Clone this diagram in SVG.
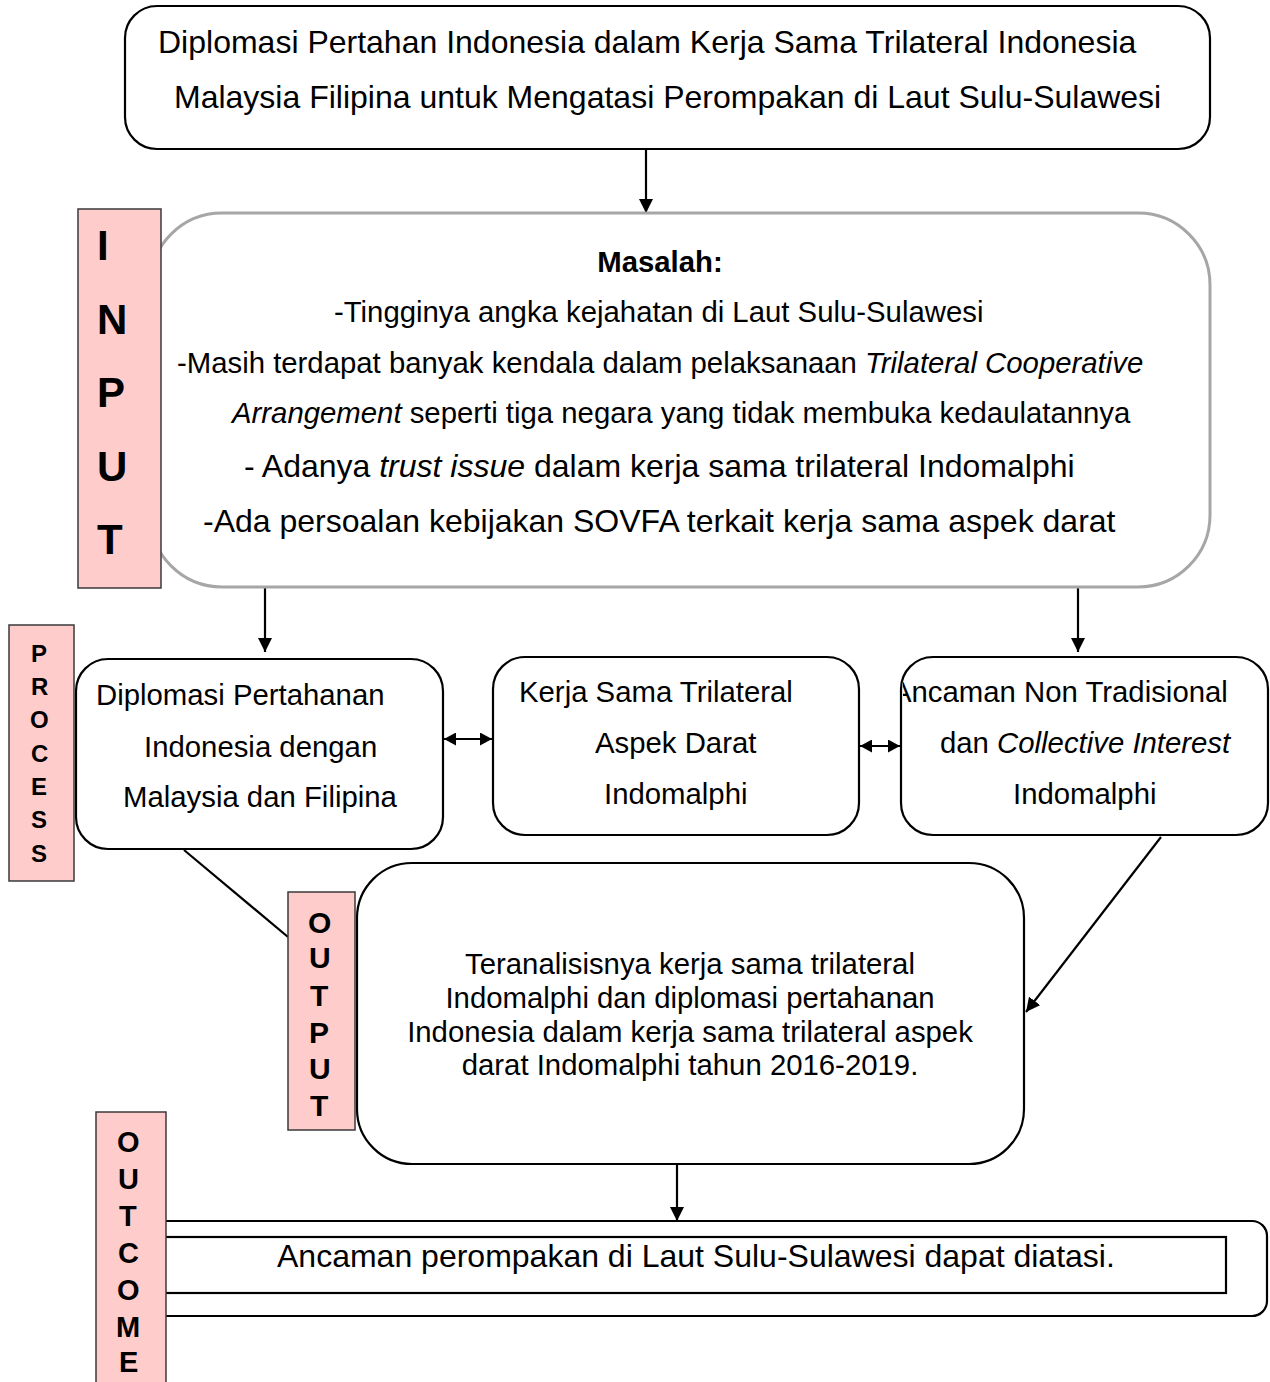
<svg xmlns="http://www.w3.org/2000/svg" width="1270" height="1382" viewBox="0 0 1270 1382">
<style>
.t{font-family:"Liberation Sans",Arial,sans-serif;fill:#000}
.s22{font-size:29.33px}
.s24{font-size:32px}
.b{font-weight:bold}
.i{font-style:italic}
.box{fill:#fff;stroke:#000;stroke-width:2.2}
.gbox{fill:#fff;stroke:#a6a6a6;stroke-width:3}
.lab{fill:#ffcccc;stroke:#3a3a3a;stroke-width:1.5}
.lt{font-family:"Liberation Sans",Arial,sans-serif;font-weight:bold;fill:#000}
.c{fill:none;stroke:#000;stroke-width:2.2}
</style>
<defs>
<marker id="ah" markerUnits="userSpaceOnUse" markerWidth="14" markerHeight="14" refX="14" refY="7" orient="auto">
<path d="M0,0 L14,7 L0,14 z" fill="#000"/>
</marker>
<marker id="ahs" markerUnits="userSpaceOnUse" markerWidth="12" markerHeight="13" refX="12" refY="6.5" orient="auto-start-reverse">
<path d="M0,0 L12,6.5 L0,13 z" fill="#000"/>
</marker>
<clipPath id="clip3"><rect x="903" y="657" width="365" height="178"/></clipPath>
</defs>

<g id="connectors">
<line class="c" x1="646" y1="149" x2="646" y2="213" marker-end="url(#ah)"/>
<line class="c" x1="265" y1="588" x2="265" y2="652" marker-end="url(#ah)"/>
<line class="c" x1="1078" y1="588" x2="1078" y2="652" marker-end="url(#ah)"/>
<line class="c" x1="444" y1="739" x2="492" y2="739" marker-start="url(#ahs)" marker-end="url(#ahs)"/>
<line class="c" x1="860" y1="746" x2="900" y2="746" marker-start="url(#ahs)" marker-end="url(#ahs)"/>
<line class="c" x1="184" y1="850" x2="288" y2="937"/>
<line class="c" x1="1161" y1="837" x2="1026" y2="1012" marker-end="url(#ah)"/>
<line class="c" x1="677" y1="1165" x2="677" y2="1221" marker-end="url(#ah)"/>
</g>

<g id="node-title">
<rect class="box" x="125" y="6" width="1085" height="143" rx="32" ry="32"/>
<text class="t s24" x="158" y="53">Diplomasi Pertahan Indonesia dalam Kerja Sama Trilateral Indonesia</text>
<text class="t s24" x="174" y="108">Malaysia Filipina untuk Mengatasi Perompakan di Laut Sulu-Sulawesi</text>
</g>

<g id="node-masalah">
<rect class="gbox" x="150" y="213" width="1060" height="374" rx="72" ry="72"/>
<text class="t s22 b" x="660" y="272" text-anchor="middle">Masalah:</text>
<text class="t s22" x="334" y="322">-Tingginya angka kejahatan di Laut Sulu-Sulawesi</text>
<text class="t s22" x="177" y="373">-Masih terdapat banyak kendala dalam pelaksanaan <tspan class="i">Trilateral Cooperative</tspan></text>
<text class="t s22" x="232" y="423"><tspan class="i">Arrangement</tspan> seperti tiga negara yang tidak membuka kedaulatannya</text>
<text class="t s24" x="244" y="477">- Adanya <tspan class="i">trust issue</tspan> dalam kerja sama trilateral Indomalphi</text>
<text class="t s24" x="203" y="532">-Ada persoalan kebijakan SOVFA terkait kerja sama aspek darat</text>
</g>

<g id="label-input">
<rect class="lab" x="78" y="209" width="83" height="379"/>
<text class="lt" font-size="42" x="97" y="260">I</text>
<text class="lt" font-size="42" x="97" y="334">N</text>
<text class="lt" font-size="42" x="97" y="407">P</text>
<text class="lt" font-size="42" x="97" y="481">U</text>
<text class="lt" font-size="42" x="97" y="554">T</text>
</g>

<g id="node-diplomasi">
<rect class="box" x="76" y="659" width="367" height="190" rx="32" ry="32"/>
<text class="t s22" x="96" y="705">Diplomasi Pertahanan</text>
<text class="t s22" x="144" y="757">Indonesia dengan</text>
<text class="t s22" x="123" y="807">Malaysia dan Filipina</text>
</g>

<g id="node-kerjasama">
<rect class="box" x="493" y="657" width="366" height="178" rx="32" ry="32"/>
<text class="t s22" x="519" y="702">Kerja Sama Trilateral</text>
<text class="t s22" x="595" y="753">Aspek Darat</text>
<text class="t s22" x="604" y="804">Indomalphi</text>
</g>

<g id="node-ancaman">
<rect class="box" x="901" y="657" width="367" height="178" rx="32" ry="32"/>
<g clip-path="url(#clip3)">
<text class="t s22" x="892" y="702">Ancaman Non Tradisional</text>
</g>
<text class="t s22" x="940" y="753">dan <tspan class="i">Collective Interest</tspan></text>
<text class="t s22" x="1013" y="804">Indomalphi</text>
</g>

<g id="label-process">
<rect class="lab" x="9" y="625" width="65" height="256"/>
<text class="lt" font-size="24" x="31" y="662">P</text>
<text class="lt" font-size="24" x="31" y="695">R</text>
<text class="lt" font-size="24" x="30" y="728">O</text>
<text class="lt" font-size="24" x="31" y="762">C</text>
<text class="lt" font-size="24" x="31" y="795">E</text>
<text class="lt" font-size="24" x="31" y="828">S</text>
<text class="lt" font-size="24" x="31" y="862">S</text>
</g>

<g id="node-output">
<rect class="box" x="357" y="863" width="667" height="301" rx="55" ry="55"/>
<text class="t s22" x="690" y="974" text-anchor="middle">Teranalisisnya kerja sama trilateral</text>
<text class="t s22" x="690" y="1008" text-anchor="middle">Indomalphi dan diplomasi pertahanan</text>
<text class="t s22" x="690" y="1042" text-anchor="middle">Indonesia dalam kerja sama trilateral aspek</text>
<text class="t s22" x="690" y="1075" text-anchor="middle">darat Indomalphi tahun 2016-2019.</text>
</g>

<g id="label-output">
<rect class="lab" x="288" y="892" width="67" height="238"/>
<text class="lt" font-size="30" x="308" y="933">O</text>
<text class="lt" font-size="30" x="309" y="968">U</text>
<text class="lt" font-size="30" x="310" y="1006">T</text>
<text class="lt" font-size="30" x="309" y="1043">P</text>
<text class="lt" font-size="30" x="309" y="1079">U</text>
<text class="lt" font-size="30" x="310" y="1116">T</text>
</g>

<g id="node-outcome">
<rect class="box" x="150" y="1221" width="1117" height="95" rx="15" ry="15"/>
<rect class="box" x="150" y="1237" width="1076" height="56"/>
<text class="t s24" x="277" y="1267">Ancaman perompakan di Laut Sulu-Sulawesi dapat diatasi.</text>
</g>

<g id="label-outcome">
<rect class="lab" x="96" y="1112" width="70" height="280"/>
<text class="lt" font-size="29" x="117" y="1152">O</text>
<text class="lt" font-size="29" x="118" y="1189">U</text>
<text class="lt" font-size="29" x="119" y="1226">T</text>
<text class="lt" font-size="29" x="118" y="1263">C</text>
<text class="lt" font-size="29" x="117" y="1300">O</text>
<text class="lt" font-size="29" x="116" y="1337">M</text>
<text class="lt" font-size="29" x="119" y="1372">E</text>
</g>
</svg>
